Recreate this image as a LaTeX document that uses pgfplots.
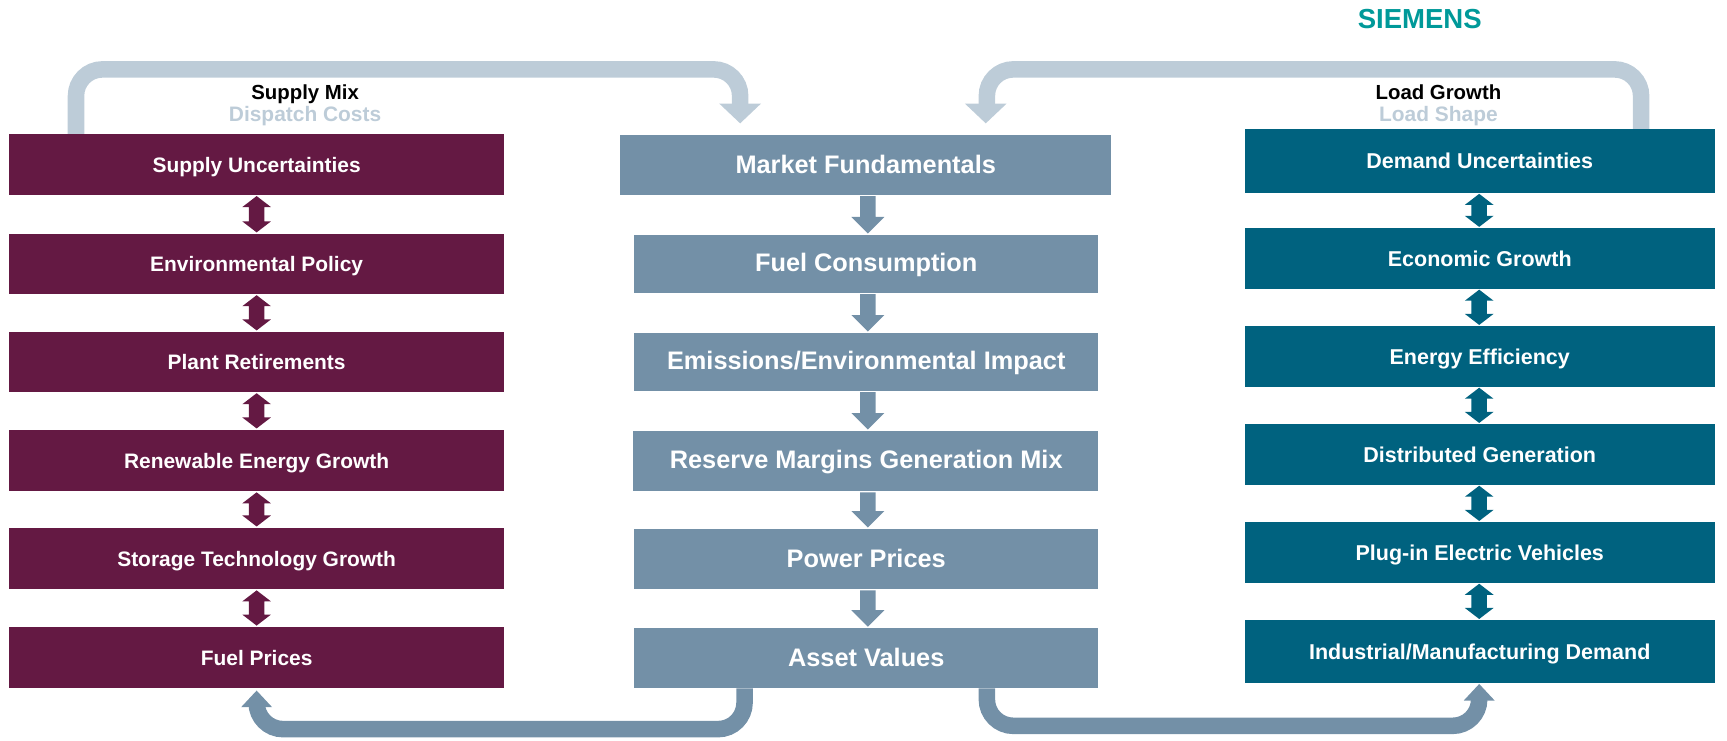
\documentclass[border=0pt]{standalone}
\usepackage{fontspec}
\setmainfont{Liberation Sans}
\usepackage{pgfplots}
\pgfplotsset{compat=1.18}
\definecolor{plum}{HTML}{641943}
\definecolor{slate}{HTML}{7390A7}
\definecolor{petrol}{HTML}{00627F}
\definecolor{pale}{HTML}{BDCCD8}
\definecolor{siemens}{HTML}{009999}
\newcommand{\lbl}[4]{\node[text=#1,font=#2,inner sep=0pt,text height=1.5ex,text depth=.25ex,yshift=-4pt] at (axis cs:#3) {#4};}
\newcommand{\fL}{\bfseries\fontsize{19}{19}\selectfont}
\newcommand{\fM}{\bfseries\fontsize{23}{23}\selectfont}
\newcommand{\fR}{\bfseries\fontsize{19.5}{19.5}\selectfont}
\begin{document}
\begin{tikzpicture}
\begin{axis}[width=1568pt,height=672pt,scale only axis,xmin=0,xmax=1568,ymin=0,ymax=672,y dir=reverse,hide axis,clip=false]
% curved arrows
\addplot[draw=pale,line width=15pt,rounded corners=24pt] coordinates {(69,122)(69,63)(672,63)(672,95)};
\addplot[draw=none,fill=pale] coordinates {(653,94)(691,94)(672,112)} -- cycle;
\addplot[draw=pale,line width=15pt,rounded corners=24pt] coordinates {(1490,117)(1490,63)(896,63)(896,95)};
\addplot[draw=none,fill=pale] coordinates {(876,94)(914,94)(895,112)} -- cycle;
\addplot[draw=slate,line width=15pt,rounded corners=24pt] coordinates {(676,625)(676,662)(233,662)(233,641)};
\addplot[draw=none,fill=slate] coordinates {(219,642)(247,642)(233,627)} -- cycle;
\addplot[draw=slate,line width=15pt,rounded corners=24pt] coordinates {(896,625)(896,659)(1343,659)(1343,635)};
\addplot[draw=none,fill=slate] coordinates {(1329,636)(1357,636)(1343,621)} -- cycle;
% left boxes
\addplot[draw=none,fill=plum] coordinates {(8,122)(458,122)(458,177)(8,177)} -- cycle;
\addplot[draw=none,fill=plum] coordinates {(8,212)(458,212)(458,267)(8,267)} -- cycle;
\addplot[draw=none,fill=plum] coordinates {(8,301)(458,301)(458,356)(8,356)} -- cycle;
\addplot[draw=none,fill=plum] coordinates {(8,390)(458,390)(458,446)(8,446)} -- cycle;
\addplot[draw=none,fill=plum] coordinates {(8,479)(458,479)(458,535)(8,535)} -- cycle;
\addplot[draw=none,fill=plum] coordinates {(8,569)(458,569)(458,625)(8,625)} -- cycle;
% left double arrows
\addplot[draw=none,fill=plum] coordinates {(233,178)(246,188)(240,188)(240,201)(246,201)(233,211)(220,201)(226,201)(226,188)(220,188)} -- cycle;
\addplot[draw=none,fill=plum] coordinates {(233,268)(246,278)(240,278)(240,290)(246,290)(233,300)(220,290)(226,290)(226,278)(220,278)} -- cycle;
\addplot[draw=none,fill=plum] coordinates {(233,357)(246,367)(240,367)(240,379)(246,379)(233,389)(220,379)(226,379)(226,367)(220,367)} -- cycle;
\addplot[draw=none,fill=plum] coordinates {(233,447)(246,457)(240,457)(240,468)(246,468)(233,478)(220,468)(226,468)(226,457)(220,457)} -- cycle;
\addplot[draw=none,fill=plum] coordinates {(233,536)(246,546)(240,546)(240,558)(246,558)(233,568)(220,558)(226,558)(226,546)(220,546)} -- cycle;
% middle boxes
\addplot[draw=none,fill=slate] coordinates {(563,123)(1009,123)(1009,177)(563,177)} -- cycle;
\addplot[draw=none,fill=slate] coordinates {(576,213)(997,213)(997,266)(576,266)} -- cycle;
\addplot[draw=none,fill=slate] coordinates {(576,302)(997,302)(997,355)(576,355)} -- cycle;
\addplot[draw=none,fill=slate] coordinates {(575,391)(997,391)(997,446)(575,446)} -- cycle;
\addplot[draw=none,fill=slate] coordinates {(576,480)(997,480)(997,535)(576,535)} -- cycle;
\addplot[draw=none,fill=slate] coordinates {(576,570)(997,570)(997,625)(576,625)} -- cycle;
% middle down arrows
\addplot[draw=none,fill=slate] coordinates {(781,178)(795,178)(795,197)(803,197)(788,212)(773,197)(781,197)} -- cycle;
\addplot[draw=none,fill=slate] coordinates {(781,267)(795,267)(795,286)(803,286)(788,301)(773,286)(781,286)} -- cycle;
\addplot[draw=none,fill=slate] coordinates {(781,356)(795,356)(795,375)(803,375)(788,390)(773,375)(781,375)} -- cycle;
\addplot[draw=none,fill=slate] coordinates {(781,447)(795,447)(795,464)(803,464)(788,479)(773,464)(781,464)} -- cycle;
\addplot[draw=none,fill=slate] coordinates {(781,536)(795,536)(795,554)(803,554)(788,569)(773,554)(781,554)} -- cycle;
% right boxes
\addplot[draw=none,fill=petrol] coordinates {(1130,117)(1557,117)(1557,175)(1130,175)} -- cycle;
\addplot[draw=none,fill=petrol] coordinates {(1130,207)(1557,207)(1557,262)(1130,262)} -- cycle;
\addplot[draw=none,fill=petrol] coordinates {(1130,296)(1557,296)(1557,351)(1130,351)} -- cycle;
\addplot[draw=none,fill=petrol] coordinates {(1130,385)(1557,385)(1557,440)(1130,440)} -- cycle;
\addplot[draw=none,fill=petrol] coordinates {(1130,474)(1557,474)(1557,529)(1130,529)} -- cycle;
\addplot[draw=none,fill=petrol] coordinates {(1130,563)(1557,563)(1557,620)(1130,620)} -- cycle;
% right double arrows
\addplot[draw=none,fill=petrol] coordinates {(1343,176)(1356,186)(1350,186)(1350,196)(1356,196)(1343,206)(1330,196)(1336,196)(1336,186)(1330,186)} -- cycle;
\addplot[draw=none,fill=petrol] coordinates {(1343,263)(1356,273)(1350,273)(1350,285)(1356,285)(1343,295)(1330,285)(1336,285)(1336,273)(1330,273)} -- cycle;
\addplot[draw=none,fill=petrol] coordinates {(1343,352)(1356,362)(1350,362)(1350,374)(1356,374)(1343,384)(1330,374)(1336,374)(1336,362)(1330,362)} -- cycle;
\addplot[draw=none,fill=petrol] coordinates {(1343,441)(1356,451)(1350,451)(1350,463)(1356,463)(1343,473)(1330,463)(1336,463)(1336,451)(1330,451)} -- cycle;
\addplot[draw=none,fill=petrol] coordinates {(1343,530)(1356,540)(1350,540)(1350,552)(1356,552)(1343,562)(1330,552)(1336,552)(1336,540)(1330,540)} -- cycle;
% texts
\lbl{white}{\fL}{233,149.5}{Supply Uncertainties}
\lbl{white}{\fL}{233,239.5}{Environmental Policy}
\lbl{white}{\fL}{233,328.5}{Plant Retirements}
\lbl{white}{\fL}{233,418}{Renewable Energy Growth}
\lbl{white}{\fL}{233,507}{Storage Technology Growth}
\lbl{white}{\fL}{233,597}{Fuel Prices}
\lbl{white}{\fM}{786,150}{Market Fundamentals}
\lbl{white}{\fM}{786.5,239.5}{Fuel Consumption}
\lbl{white}{\fM}{786.5,328.5}{Emissions/Environmental Impact}
\lbl{white}{\fM}{786.5,418.5}{Reserve Margins Generation Mix}
\lbl{white}{\fM}{786.5,507.5}{Power Prices}
\lbl{white}{\fM}{786.5,597.5}{Asset Values}
\lbl{white}{\fR}{1343.5,146}{Demand Uncertainties}
\lbl{white}{\fR}{1343.5,234.5}{Economic Growth}
\lbl{white}{\fR}{1343.5,323.5}{Energy Efficiency}
\lbl{white}{\fR}{1343.5,412.5}{Distributed Generation}
\lbl{white}{\fR}{1343.5,501.5}{Plug-in Electric Vehicles}
\lbl{white}{\fR}{1343.5,591.5}{Industrial/Manufacturing Demand}
\lbl{black}{\bfseries\fontsize{18.5}{18.5}\selectfont}{277,83}{Supply Mix}
\lbl{pale}{\bfseries\fontsize{19}{19}\selectfont}{277,103}{Dispatch Costs}
\lbl{black}{\bfseries\fontsize{18.5}{18.5}\selectfont}{1306,83}{Load Growth}
\lbl{pale}{\bfseries\fontsize{19}{19}\selectfont}{1306,103}{Load Shape}
\lbl{siemens}{\bfseries\fontsize{25}{25}\selectfont}{1289,19}{SIEMENS}
\end{axis}
\pgfresetboundingbox
\useasboundingbox (current axis.south west) rectangle (current axis.north east);
\end{tikzpicture}
\end{document}
